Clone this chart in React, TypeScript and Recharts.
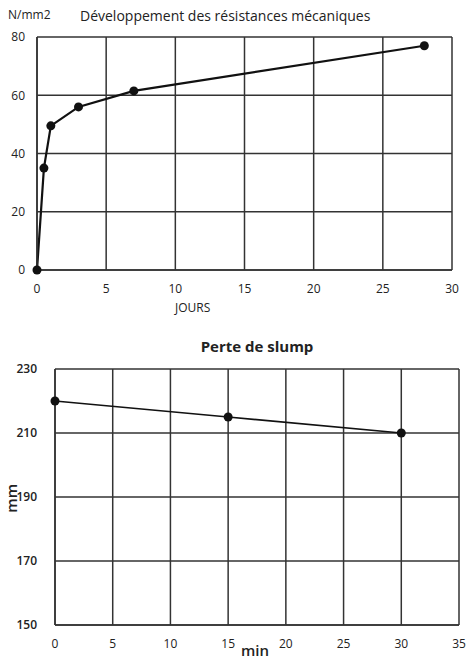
import { LineChart, Line, XAxis, YAxis, CartesianGrid } from 'recharts'

// Développement des résistances mécaniques
const jours = [0, 0.5, 1, 3, 7, 28]
const resistance = [0, 35, 49.5, 56, 61.5, 77]
const joursTicks = [0, 5, 10, 15, 20, 25, 30]
const resistanceTicks = [0, 20, 40, 60, 80]

// Perte de slump
const minutes = [0, 15, 30]
const slump = [220, 215, 210]
const minTicks = [0, 5, 10, 15, 20, 25, 30, 35]
const slumpTicks = [150, 170, 190, 210, 230]

const FONT = '"Open Sans", "Noto Sans", sans-serif'
const GRID = '#333'
const tickStyle = { fontFamily: FONT, fontSize: 12, fill: '#222' }

const topData = jours.map((j, i) => ({ x: j, y: resistance[i] }))
const bottomData = minutes.map((m, i) => ({ x: m, y: slump[i] }))

export default function App() {
    return (
        <div style={{ position: 'relative', width: 468, height: 661, background: '#fff', fontFamily: FONT, color: '#222', overflow: 'hidden' }}>
            <style>{`body{margin:0}`}</style>

            <div style={{ position: 'absolute', left: 8, top: 6, fontSize: 12 }}>N/mm2</div>
            <div style={{ position: 'absolute', left: 80, top: 6, fontSize: 14 }}>Développement des résistances mécaniques</div>

            <div style={{ position: 'absolute', left: 0, top: 0 }}>
                <LineChart width={468} height={310} data={topData} margin={{ top: 37, right: 16, left: 7, bottom: 10 }}>
                    <CartesianGrid stroke={GRID} strokeWidth={1.5} strokeOpacity={1} />
                    <XAxis
                        dataKey="x"
                        type="number"
                        domain={[0, 30]}
                        ticks={joursTicks}
                        height={30}
                        tickLine={false}
                        axisLine={{ stroke: GRID, strokeWidth: 1.5 }}
                        tick={tickStyle}
                        tickMargin={8}
                        interval={0}
                    />
                    <YAxis
                        type="number"
                        domain={[0, 80]}
                        ticks={resistanceTicks}
                        width={30}
                        tickLine={false}
                        axisLine={{ stroke: GRID, strokeWidth: 1.5 }}
                        tick={tickStyle}
                        tickMargin={6}
                        interval={0}
                    />
                    <Line
                        dataKey="y"
                        type="linear"
                        stroke="#111"
                        strokeWidth={2.2}
                        dot={{ r: 4.5, fill: '#111', stroke: '#111', strokeWidth: 0 }}
                        isAnimationActive={false}
                    />
                </LineChart>
            </div>

            <div style={{ position: 'absolute', left: 175, top: 299, fontSize: 12 }}>JOURS</div>

            <div style={{ position: 'absolute', left: 0, width: 468, top: 336, textAlign: 'center', paddingLeft: 46, boxSizing: 'border-box', fontSize: 15, fontWeight: 700 }}>
                Perte de slump
            </div>

            <div style={{ position: 'absolute', left: 0, top: 320 }}>
                <LineChart width={468} height={341} data={bottomData} margin={{ top: 49, right: 9, left: 15, bottom: 10 }}>
                    <CartesianGrid stroke={GRID} strokeWidth={1.5} strokeOpacity={1} />
                    <XAxis
                        dataKey="x"
                        type="number"
                        domain={[0, 35]}
                        ticks={minTicks}
                        height={26}
                        tickLine={false}
                        axisLine={{ stroke: GRID, strokeWidth: 1.5 }}
                        tick={tickStyle}
                        tickMargin={8}
                        interval={0}
                    />
                    <YAxis
                        type="number"
                        domain={[150, 230]}
                        ticks={slumpTicks}
                        width={40}
                        tickLine={false}
                        axisLine={{ stroke: GRID, strokeWidth: 1.5 }}
                        tick={{ ...tickStyle, fontWeight: 600 }}
                        tickMargin={12}
                        interval={0}
                    />
                    <Line
                        dataKey="y"
                        type="linear"
                        stroke="#111"
                        strokeWidth={1.6}
                        dot={{ r: 4.5, fill: '#111', stroke: '#111', strokeWidth: 0 }}
                        isAnimationActive={false}
                    />
                </LineChart>
            </div>

            <div style={{ position: 'absolute', left: 1, top: 484, fontSize: 15, fontWeight: 600, lineHeight: '20px', writingMode: 'vertical-rl', transform: 'rotate(180deg)' }}>mm</div>
            <div style={{ position: 'absolute', left: 241, top: 640, fontSize: 15, fontWeight: 600 }}>min</div>
        </div>
    )
}
